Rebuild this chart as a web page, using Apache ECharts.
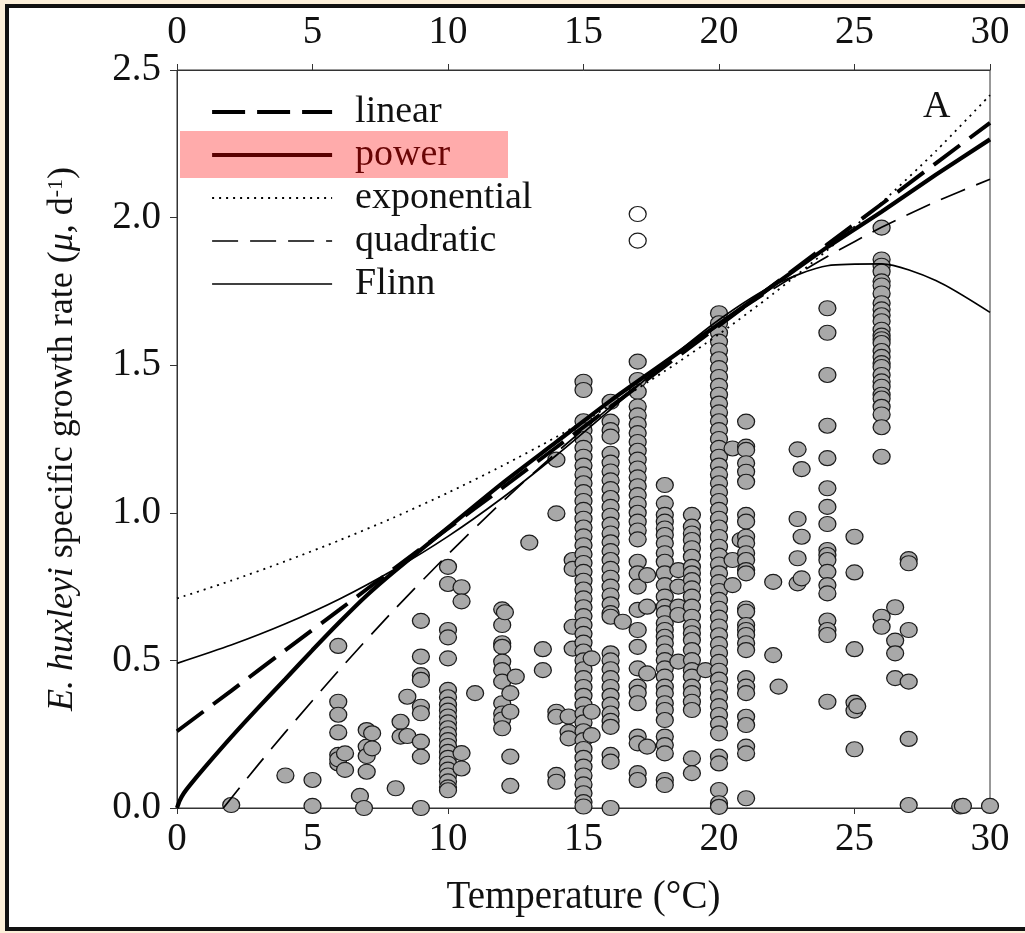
<!DOCTYPE html>
<html>
<head>
<meta charset="utf-8">
<title>E. huxleyi growth rate vs temperature</title>
<script src="https://cdn.jsdelivr.net/npm/echarts@6/dist/echarts.min.js"></script>
<style>
  html, body { margin: 0; padding: 0; width: 1025px; height: 933px; overflow: hidden; background: #fcefd9; }
  #frame { position: absolute; left: 5px; top: 4px; right: -20px; bottom: 2px; background: #ffffff; border: 4px solid #111; }
  #chart { position: absolute; left: 0; top: 0; width: 1025px; height: 933px; }
</style>
</head>
<body>
<div id="frame"></div>
<div id="chart"></div>
<script>
// Observed growth rates, grouped by the temperature at which they were measured
const columnTemps = [2, 4, 5, 5.95, 6.2, 6.75, 6.9, 7.0, 7.2, 8.07, 8.25, 8.5, 9.0, 10.0, 10.5, 11.0,
  12.0, 12.1, 12.3, 12.5, 13.0, 13.5, 14.0, 14.45, 14.6, 15.0, 15.3, 16.0, 16.45, 17.0, 17.35,
  18.0, 18.5, 19.0, 19.5, 20.0, 20.5, 20.8, 21.0, 22.0, 22.2, 22.9, 23.05, 24.0, 25.0, 25.1,
  26.0, 26.5, 27.0, 28.9, 29.0, 30.0];
const columnRates = [
  [0.01],
  [0.11],
  [0.095, 0.007],
  [0.549, 0.36, 0.316, 0.256, 0.18, 0.151, 0.165],
  [0.185, 0.129],
  [0.041],
  [0.0],
  [0.264, 0.208, 0.176, 0.123],
  [0.253, 0.202],
  [0.067],
  [0.292, 0.242],
  [0.244, 0.377],
  [0.634, 0.513, 0.45, 0.434, 0.343, 0.321, 0.225, 0.174, 0.0],
  [0.817, 0.759, 0.603, 0.578, 0.507, 0.40, 0.375, 0.35, 0.33, 0.31, 0.29, 0.27, 0.25, 0.23, 0.21, 0.19, 0.17, 0.15, 0.13, 0.11, 0.09, 0.07, 0.06],
  [0.748, 0.70, 0.186, 0.134],
  [0.389],
  [0.673, 0.62, 0.558, 0.546, 0.496, 0.467, 0.428, 0.355, 0.32, 0.30, 0.27],
  [0.663],
  [0.389, 0.326, 0.174, 0.075],
  [0.445],
  [0.899],
  [0.538, 0.467],
  [1.18, 0.998, 0.326, 0.309, 0.112, 0.089],
  [0.31, 0.258, 0.236],
  [0.84, 0.81, 0.614, 0.54],
  [1.444, 1.416, 1.31, 1.28, 1.25, 1.22, 1.19, 1.16, 1.13, 1.10, 1.07, 1.04, 1.01, 0.98, 0.95, 0.92, 0.89, 0.86, 0.83, 0.80, 0.77, 0.74, 0.71, 0.68, 0.65, 0.62, 0.59, 0.56, 0.53, 0.50, 0.47, 0.44, 0.41, 0.38, 0.35, 0.32, 0.29, 0.26, 0.23, 0.20, 0.17, 0.14, 0.11, 0.08, 0.05, 0.02, 0.005],
  [0.507, 0.326, 0.247],
  [1.376, 1.309, 1.28, 1.258, 1.20, 1.17, 1.14, 1.11, 1.08, 1.05, 1.02, 0.99, 0.96, 0.93, 0.90, 0.87, 0.84, 0.81, 0.78, 0.75, 0.72, 0.69, 0.66, 0.648, 0.524, 0.50, 0.47, 0.44, 0.41, 0.38, 0.35, 0.32, 0.295, 0.275, 0.18, 0.157, 0.0],
  [0.631],
  [1.512, 1.45, 1.41, 1.36, 1.33, 1.30, 1.27, 1.24, 1.21, 1.18, 1.15, 1.12, 1.09, 1.06, 1.03, 1.00, 0.97, 0.94, 0.91, 0.834, 0.795, 0.75, 0.671, 0.603, 0.546, 0.473, 0.411, 0.39, 0.355, 0.242, 0.219, 0.118, 0.095],
  [0.789, 0.682, 0.456, 0.208],
  [1.094, 1.032, 0.993, 0.970, 0.947, 0.925, 0.897, 0.863, 0.834, 0.795, 0.755, 0.716, 0.682, 0.660, 0.626, 0.603, 0.580, 0.558, 0.530, 0.501, 0.473, 0.445, 0.411, 0.389, 0.355, 0.332, 0.298, 0.242, 0.213, 0.185, 0.095, 0.078],
  [0.806, 0.75, 0.682, 0.654, 0.496],
  [0.993, 0.953, 0.930, 0.908, 0.880, 0.851, 0.817, 0.795, 0.772, 0.744, 0.716, 0.682, 0.648, 0.614, 0.592, 0.569, 0.535, 0.501, 0.467, 0.445, 0.411, 0.389, 0.360, 0.332, 0.168, 0.118],
  [0.467],
  [1.676, 1.642, 1.61, 1.58, 1.55, 1.52, 1.49, 1.46, 1.43, 1.40, 1.37, 1.34, 1.31, 1.28, 1.25, 1.22, 1.19, 1.16, 1.13, 1.10, 1.07, 1.04, 1.01, 0.98, 0.95, 0.918, 0.885, 0.855, 0.825, 0.795, 0.765, 0.735, 0.705, 0.675, 0.645, 0.615, 0.585, 0.555, 0.525, 0.495, 0.465, 0.435, 0.405, 0.375, 0.345, 0.315, 0.285, 0.253, 0.174, 0.151, 0.061, 0.016, 0.004],
  [1.218, 0.84, 0.755],
  [0.908],
  [1.309, 1.224, 1.213, 1.168, 1.139, 1.105, 0.993, 0.970, 0.919, 0.897, 0.863, 0.84, 0.806, 0.795, 0.676, 0.665, 0.62, 0.603, 0.586, 0.558, 0.535, 0.44, 0.411, 0.389, 0.309, 0.281, 0.208, 0.185, 0.033],
  [0.766, 0.518],
  [0.411],
  [1.215, 0.979, 0.846, 0.761],
  [1.148, 0.919, 0.778],
  [1.693, 1.61, 1.467, 1.295, 1.185, 1.083, 1.02, 0.962, 0.874, 0.857, 0.84, 0.80, 0.755, 0.727, 0.635, 0.603, 0.586, 0.36],
  [0.919, 0.798, 0.538, 0.357, 0.33, 0.199],
  [0.345],
  [1.966, 1.858, 1.837, 1.817, 1.784, 1.77, 1.743, 1.71, 1.689, 1.669, 1.649, 1.62, 1.60, 1.588, 1.575, 1.548, 1.528, 1.507, 1.494, 1.467, 1.445, 1.427, 1.40, 1.387, 1.359, 1.333, 1.29, 1.19, 0.648, 0.614],
  [0.68, 0.567, 0.524, 0.44],
  [0.843, 0.829, 0.603, 0.428, 0.234, 0.01],
  [0.005],
  [0.007],
  [0.007]
];
// Outlying observations drawn as open circles
const outlierTemps = [17.0, 17.0];
const outlierRates = [2.012, 1.922];

// Fitted model curves
const curveTemps = [0, 2, 4, 6, 8, 10, 12, 14, 16, 18, 20, 22, 24, 26, 28, 30];
const linearFit = [0.26, 0.397, 0.535, 0.672, 0.810, 0.947, 1.084, 1.222, 1.359, 1.497, 1.634, 1.771, 1.909, 2.046, 2.184, 2.321];
const expFit = [0.71, 0.770, 0.836, 0.907, 0.984, 1.068, 1.159, 1.257, 1.364, 1.480, 1.605, 1.742, 1.890, 2.051, 2.225, 2.415];
const flinnFit = [0.490, 0.552, 0.624, 0.708, 0.807, 0.920, 1.050, 1.195, 1.350, 1.508, 1.654, 1.770, 1.837, 1.843, 1.787, 1.679];
const powerTemps = [0, 0.1, 0.25, 0.5, 1, 2, 3, 4, 5, 6, 7, 8, 10, 12, 14, 16, 18, 20, 22, 24, 26, 28, 30];
const powerFit = [0, 0.025, 0.05, 0.08, 0.135, 0.24, 0.34, 0.437, 0.535, 0.63, 0.72, 0.80, 0.95, 1.10, 1.24, 1.38, 1.51, 1.64, 1.77, 1.90, 2.02, 2.145, 2.265];
const quadTemps = [1.71, 2, 3, 4, 6, 8, 10, 12, 14, 16, 18, 20, 22, 24, 26, 28, 30];
const quadFit = [0, 0.033, 0.147, 0.257, 0.469, 0.670, 0.859, 1.037, 1.204, 1.359, 1.503, 1.636, 1.758, 1.868, 1.967, 2.054, 2.130];

const tempTicks = [0, 5, 10, 15, 20, 25, 30];
const rateTicks = [0.0, 0.5, 1.0, 1.5, 2.0, 2.5];

const SERIF = "'Liberation Serif', 'Times New Roman', serif";
const zip = (xs, ys) => xs.map((x, i) => [x, ys[i]]);

const observed = [];
columnTemps.forEach((t, i) => columnRates[i].forEach(r => observed.push([t, r])));

const lineSeries = (name, xs, ys, width, type) => ({
  name: name,
  type: 'line',
  data: zip(xs, ys),
  xAxisIndex: 0,
  yAxisIndex: 0,
  symbol: 'none',
  showSymbol: false,
  smooth: 0.25,
  z: 5,
  lineStyle: { color: '#000', width: width, type: type, cap: 'butt' },
  itemStyle: { color: '#000' },
  silent: true
});

const axisLabelFont = { fontFamily: SERIF, fontSize: 39, color: '#111' };

const chart = echarts.init(document.getElementById('chart'), null, { renderer: 'canvas' });
chart.setOption({
  animation: false,
  backgroundColor: 'transparent',
  grid: { left: 177, top: 70, width: 813, height: 738, show: true, borderColor: '#333', borderWidth: 1, backgroundColor: 'transparent' },
  graphic: [
    { type: 'rect', left: 180, top: 131, shape: { width: 328, height: 47 }, style: { fill: '#ffabab' }, z: -1 },
    { type: 'text', left: 923, top: 88, style: { text: 'A', font: '38px ' + SERIF, fill: '#111' }, z: 10 }
  ],
  legend: {
    orient: 'vertical',
    left: 205,
    top: 88,
    itemWidth: 120,
    itemHeight: 20,
    itemGap: 5,
    itemStyle: { opacity: 0 },
    lineStyle: { width: 'inherit', type: 'inherit', opacity: 1 },
    textStyle: { fontFamily: SERIF, fontSize: 38, color: '#111', padding: [0, 0, 0, 18], lineHeight: 38 },
    data: [
      'linear',
      { name: 'power', textStyle: { color: '#6a0505' }, lineStyle: { color: '#5a0000', width: 4.2 } },
      'exponential',
      'quadratic',
      'Flinn'
    ],
    selectedMode: false
  },
  xAxis: [
    {
      type: 'value', position: 'bottom', min: 0, max: 30, interval: 5,
      name: 'Temperature (°C)', nameLocation: 'middle', nameGap: 70,
      nameTextStyle: { fontFamily: SERIF, fontSize: 39, color: '#111' },
      axisLine: { show: true, lineStyle: { color: '#333', width: 1 } },
      axisTick: { show: true, inside: false, length: 6, lineStyle: { color: '#333' } },
      axisLabel: Object.assign({ margin: 12, formatter: v => tempTicks.includes(v) ? String(v) : '' }, axisLabelFont),
      splitLine: { show: false }
    },
    {
      type: 'value', position: 'top', min: 0, max: 30, interval: 5,
      axisLine: { show: true, lineStyle: { color: '#333', width: 1 } },
      axisTick: { show: true, inside: false, length: 6, lineStyle: { color: '#333' } },
      axisLabel: Object.assign({ margin: 18, formatter: v => tempTicks.includes(v) ? String(v) : '' }, axisLabelFont),
      splitLine: { show: false }
    }
  ],
  yAxis: [
    {
      type: 'value', min: 0, max: 2.5, interval: 0.5,
      name: '{i|E. huxleyi} specific growth rate ({i|μ}, d{sup|-1})',
      nameLocation: 'middle', nameRotate: 90, nameGap: 96,
      nameTextStyle: {
        fontFamily: SERIF, fontSize: 36, color: '#111',
        rich: {
          i: { fontFamily: SERIF, fontSize: 36, fontStyle: 'italic', color: '#111' },
          sup: { fontFamily: SERIF, fontSize: 22, color: '#111', verticalAlign: 'top', lineHeight: 36 }
        }
      },
      axisLine: { show: true, lineStyle: { color: '#333', width: 1 } },
      axisTick: { show: true, inside: false, length: 7, lineStyle: { color: '#333' } },
      axisLabel: Object.assign({ margin: 16, formatter: v => rateTicks.some(t => Math.abs(t - v) < 1e-9) ? v.toFixed(1) : '' }, axisLabelFont),
      splitLine: { show: false }
    }
  ],
  series: [
    {
      name: 'observed',
      type: 'scatter',
      data: observed,
      symbol: 'circle',
      symbolSize: [17, 15],
      z: 3,
      itemStyle: { color: '#a8a8a8', borderColor: '#1c1c1c', borderWidth: 1.2, opacity: 1 },
      silent: true
    },
    {
      name: 'outliers',
      type: 'scatter',
      data: zip(outlierTemps, outlierRates),
      symbol: 'circle',
      symbolSize: [17, 15],
      z: 3,
      itemStyle: { color: '#ffffff', borderColor: '#1c1c1c', borderWidth: 1.2, opacity: 1 },
      silent: true
    },
    lineSeries('linear', curveTemps, linearFit, 4, [33, 12]),
    lineSeries('power', powerTemps, powerFit, 4.2, 'solid'),
    lineSeries('exponential', curveTemps, expFit, 1.8, [2, 5]),
    lineSeries('quadratic', quadTemps, quadFit, 1.7, [26, 12]),
    lineSeries('Flinn', curveTemps, flinnFit, 1.7, 'solid')
  ]
});
</script>
</body>
</html>
